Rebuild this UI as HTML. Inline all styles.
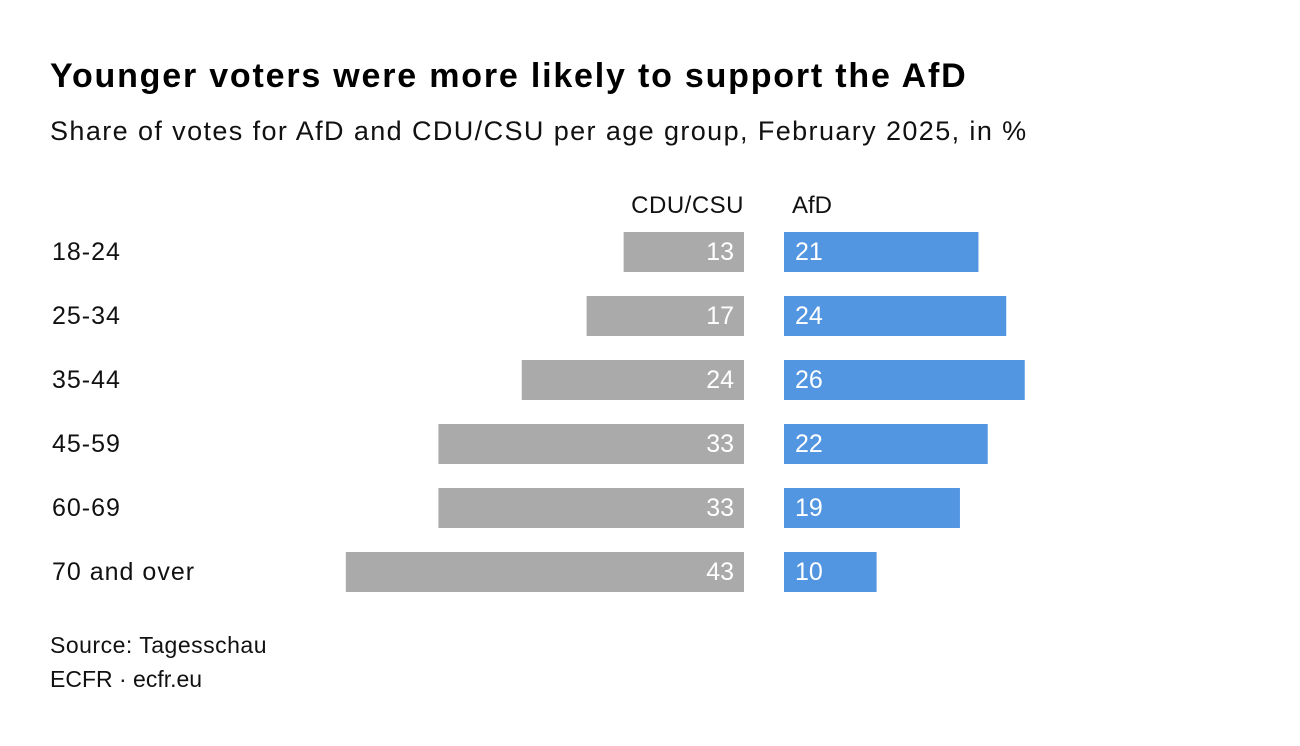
<!DOCTYPE html>
<html><head><meta charset="utf-8">
<style>
body{margin:0;background:#fff;font-family:"Liberation Sans",sans-serif;color:#111;}
#wrap{position:relative;width:1300px;height:746px;overflow:hidden;}
.t{position:absolute;white-space:nowrap;}
</style></head><body>
<div id="wrap">
<div class="t" style="left:50px;top:57px;font-size:34px;font-weight:bold;letter-spacing:1.8px;color:#000;">Younger voters were more likely to support the AfD</div>
<div class="t" style="left:50px;top:116px;font-size:27px;letter-spacing:1.4px;">Share of votes for AfD and CDU/CSU per age group, February 2025, in %</div>
<svg id="chart" width="1300" height="746" style="position:absolute;left:0;top:0"></svg>
<div class="t" style="left:50px;top:632px;font-size:23px;letter-spacing:0.5px;">Source: Tagesschau</div>
<div class="t" style="left:50px;top:666px;font-size:23px;">ECFR · ecfr.eu</div>
</div>
<script>
const categories=["18-24","25-34","35-44","45-59","60-69","70 and over"];
const cduValues=[13,17,24,33,33,43];
const afdValues=[21,24,26,22,19,10];
const svg=document.getElementById('chart');
const NS='http://www.w3.org/2000/svg';
const scale=9.26, cduRight=744, afdLeft=784, top0=232, step=64, barH=40;
const y=i=>top0+i*step;
function mk(tag,attrs,txt){const e=document.createElementNS(NS,tag);for(const k in attrs)e.setAttribute(k,attrs[k]);if(txt!==undefined)e.textContent=txt;svg.appendChild(e);return e;}
let h=mk('text',{x:cduRight,y:213,'text-anchor':'end','font-size':24,'letter-spacing':0.5,'font-family':'Liberation Sans, sans-serif',fill:'#111'},'CDU/CSU');


h=mk('text',{x:792,y:213,'font-size':24,'font-family':'Liberation Sans, sans-serif',fill:'#111'},'AfD');


categories.forEach((c,i)=>{
  const yy=y(i), cy=yy+barH/2+8;
  let l=mk('text',{x:52,y:cy,'font-size':25,'letter-spacing':1,'font-family':'Liberation Sans, sans-serif',fill:'#111'},c);
  
  
  const w1=cduValues[i]*scale;
  let b=mk('rect',{x:cduRight-w1,y:yy,width:w1,height:barH,fill:'#aaaaaa'});
  
  
  let v=mk('text',{x:cduRight-10,y:cy,'text-anchor':'end','font-size':25,'font-family':'Liberation Sans, sans-serif',fill:'#fff'},cduValues[i]);
  
  
  const w2=afdValues[i]*scale;
  b=mk('rect',{x:afdLeft,y:yy,width:w2,height:barH,fill:'#5296e2'});
  
  
  v=mk('text',{x:afdLeft+11,y:cy,'font-size':25,'font-family':'Liberation Sans, sans-serif',fill:'#fff'},afdValues[i]);
  
  
});
</script>
</body></html>
